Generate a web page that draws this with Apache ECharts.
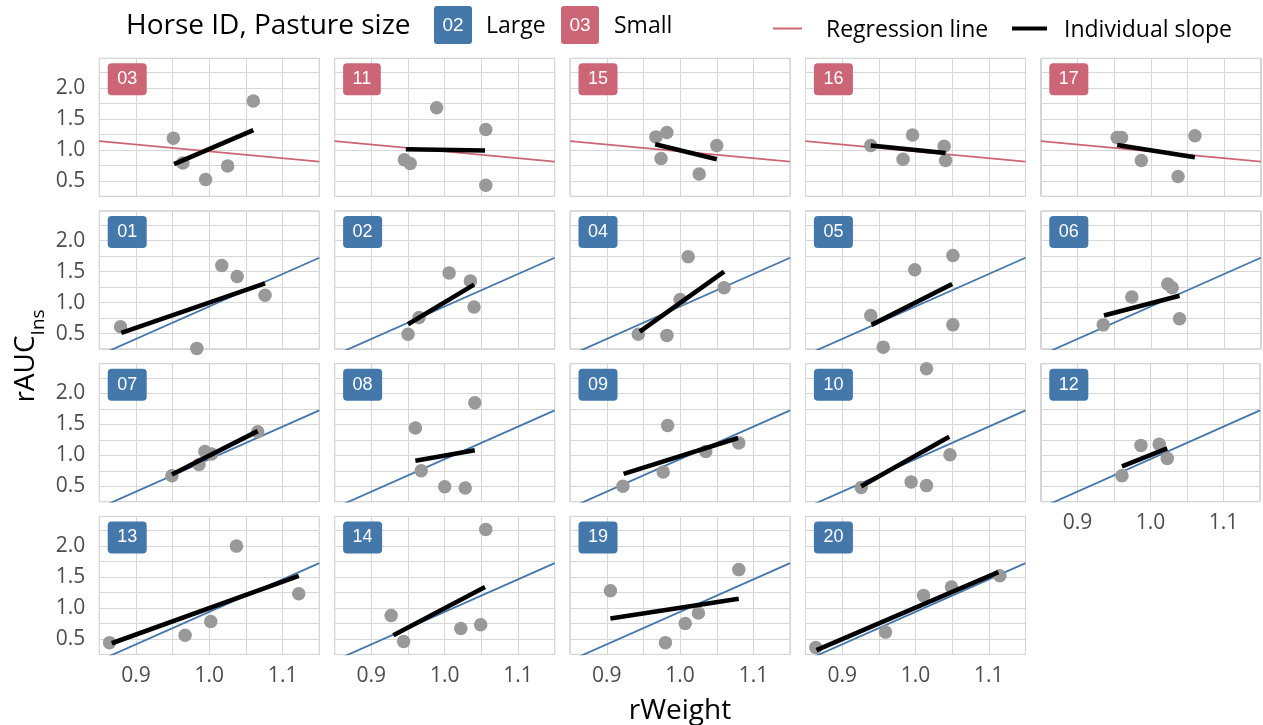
<!DOCTYPE html>
<html><head><meta charset="utf-8">
<script src="https://cdn.jsdelivr.net/npm/echarts@6/dist/echarts.min.js"></script>
<style>html,body{margin:0;padding:0;background:#fff}#c{width:1263px;height:725px}</style>
</head><body><div id="c"></div>
<script>
// ---- data ----
const horses  = ['03','11','15','16','17','01','02','04','05','06','07','08','09','10','12','13','14','19','20'];
const pasture = ['Small','Small','Small','Small','Small','Large','Large','Large','Large','Large','Large','Large','Large','Large','Large','Large','Large','Large','Large'];
const rWeight = [
  [0.951,0.964,0.995,1.025,1.060],
  [0.945,0.953,0.989,1.056,1.056],
  [0.967,0.982,0.974,1.026,1.050],
  [0.939,0.996,0.983,1.039,1.041],
  [0.954,0.960,0.987,1.037,1.060],
  [0.879,0.983,1.017,1.038,1.076],
  [0.950,0.965,1.006,1.035,1.040],
  [0.943,0.982,1.000,1.011,1.060],
  [0.939,0.956,0.999,1.051,1.051],
  [0.935,0.974,1.023,1.029,1.039],
  [0.949,0.986,0.994,1.003,1.066],
  [0.960,0.968,1.000,1.028,1.041],
  [0.922,0.977,0.983,1.035,1.080],
  [0.926,0.994,1.015,1.015,1.047],
  [0.961,0.987,1.012,1.023],
  [0.864,0.967,1.002,1.037,1.122],
  [0.927,0.944,1.022,1.049,1.056],
  [0.905,0.980,1.007,1.025,1.080],
  [0.864,0.959,1.011,1.049,1.115]
];
const rAUC = [
  [1.19,0.79,0.52,0.74,1.79],
  [0.84,0.78,1.68,1.33,0.43],
  [1.21,1.28,0.86,0.61,1.07],
  [1.07,1.24,0.85,1.06,0.83],
  [1.20,1.20,0.83,0.57,1.23],
  [0.61,0.26,1.60,1.42,1.12],
  [0.49,0.76,1.48,1.35,0.93],
  [0.49,0.47,1.05,1.74,1.24],
  [0.79,0.28,1.53,1.76,0.64],
  [0.64,1.09,1.30,1.24,0.74],
  [0.67,0.85,1.06,1.02,1.38],
  [1.44,0.75,0.49,0.47,1.85],
  [0.50,0.73,1.48,1.06,1.20],
  [0.48,0.57,0.51,2.40,1.01],
  [0.67,1.16,1.18,0.95],
  [0.44,0.56,0.78,2.00,1.23],
  [0.88,0.46,0.67,0.73,2.27],
  [1.28,0.44,0.75,0.92,1.62],
  [0.36,0.61,1.20,1.34,1.52]
];
// individual slope segments: [x1, y1, x2, y2]
const slopes = [
  [0.952,0.77,1.060,1.32],
  [0.947,1.01,1.055,0.99],
  [0.966,1.09,1.050,0.85],
  [0.939,1.07,1.041,0.95],
  [0.954,1.08,1.060,0.88],
  [0.880,0.51,1.076,1.31],
  [0.950,0.65,1.040,1.29],
  [0.945,0.53,1.060,1.50],
  [0.940,0.64,1.050,1.30],
  [0.936,0.79,1.039,1.11],
  [0.949,0.69,1.066,1.39],
  [0.960,0.91,1.041,1.08],
  [0.923,0.70,1.079,1.28],
  [0.926,0.50,1.046,1.30],
  [0.961,0.82,1.023,1.11],
  [0.867,0.43,1.122,1.52],
  [0.930,0.56,1.055,1.34],
  [0.905,0.83,1.080,1.15],
  [0.865,0.32,1.113,1.58]
];
// regression line end points per pasture size
const regSmall = [[0.85,1.14],[1.15,0.81]];
const regLarge = [[0.85,0.15],[1.15,1.725]];
const xTicks = [0.9, 1.0, 1.1];
const yTicks = [0.5, 1.0, 1.5, 2.0];
const pastureColors = {Small:'#CC6677', Large:'#4477AA'};

// ---- layout ----
const FONT = 'Open Sans';
const P_LEFT = 99.3, P_TOP = 58.3, P_W = 220, P_H = 138, DX = 235.4, DY = 152.7;
const grids = [], xAxes = [], yAxes = [], series = [], titles = [];

function fmt(ticks){ return v => ticks.some(t => Math.abs(t - v) < 1e-6) ? v.toFixed(1) : ''; }

horses.forEach((h, i) => {
  const r = Math.floor(i / 5), c = i % 5;
  const left = P_LEFT + c * DX, top = P_TOP + r * DY;
  const col = pastureColors[pasture[i]];
  const showX = (r === 3) || (r === 2 && c === 4);
  grids.push({left: left, top: top, width: P_W, height: P_H, show: true,
    backgroundColor: '#fff', borderColor: '#b8b8b8', borderWidth: 1, containLabel: false});
  xAxes.push({type: 'value', gridIndex: i, min: 0.85, max: 1.15, interval: 0.05,
    axisLine: {show: false}, axisTick: {show: false},
    splitLine: {show: true, lineStyle: {color: '#d7d7d7', width: 1}},
    axisLabel: {show: showX, formatter: fmt(xTicks), margin: 11, color: '#4d4d4d',
      fontSize: 21, fontFamily: FONT, showMinLabel: true, showMaxLabel: true}});
  yAxes.push({type: 'value', gridIndex: i, min: 0.25, max: 2.48, interval: 0.25,
    axisLine: {show: false}, axisTick: {show: false},
    splitLine: {show: true, lineStyle: {color: '#d7d7d7', width: 1}},
    axisLabel: {show: c === 0, formatter: fmt(yTicks), margin: 14, color: '#4d4d4d',
      fontSize: 21, fontFamily: FONT}});
  series.push({type: 'line', name: 'Regression line', xAxisIndex: i, yAxisIndex: i,
    data: pasture[i] === 'Small' ? regSmall : regLarge, symbol: 'none', clip: true,
    lineStyle: {color: col, width: 1.8}, silent: true, z: 2});
  series.push({type: 'scatter', xAxisIndex: i, yAxisIndex: i, clip: true,
    data: rWeight[i].map((x, k) => [x, rAUC[i][k]]), symbolSize: 13.5,
    itemStyle: {color: '#999999', opacity: 1}, silent: true, z: 3});
  const s = slopes[i];
  series.push({type: 'line', name: 'Individual slope', xAxisIndex: i, yAxisIndex: i,
    data: [[s[0], s[1]], [s[2], s[3]]], symbol: 'none', clip: true,
    lineStyle: {color: '#000', width: 4.6, cap: 'butt'}, silent: true, z: 4});
  titles.push({text: h, left: left + 8.4, top: top + 5, backgroundColor: col,
    borderRadius: 4, padding: [7, 9.5, 7, 9.5],
    textStyle: {color: '#fff', fontSize: 18, fontWeight: 'normal', fontFamily: 'Liberation Sans', lineHeight: 18}});
});

const graphic = [
  {type: 'text', x: 126, y: 26, style: {text: 'Horse ID, Pasture size', fontSize: 28, fontFamily: FONT, fill: '#000', verticalAlign: 'middle'}},
  {type: 'rect', shape: {x: 434, y: 6, width: 38, height: 38, r: 3}, style: {fill: pastureColors.Large}},
  {type: 'text', x: 453, y: 25.5, style: {text: horses[6], fontSize: 19, fontFamily: 'Liberation Sans', fill: '#fff', align: 'center', verticalAlign: 'middle'}},
  {type: 'text', x: 486, y: 26.5, style: {text: 'Large', fontSize: 23, fontFamily: FONT, fill: '#000', verticalAlign: 'middle'}},
  {type: 'rect', shape: {x: 561, y: 6, width: 38, height: 38, r: 3}, style: {fill: pastureColors.Small}},
  {type: 'text', x: 580, y: 25.5, style: {text: horses[0], fontSize: 19, fontFamily: 'Liberation Sans', fill: '#fff', align: 'center', verticalAlign: 'middle'}},
  {type: 'text', x: 614, y: 26.5, style: {text: 'Small', fontSize: 23, fontFamily: FONT, fill: '#000', verticalAlign: 'middle'}},
  {type: 'line', shape: {x1: 773, y1: 28.5, x2: 802, y2: 28.5}, style: {stroke: pastureColors.Small, lineWidth: 2}},
  {type: 'text', x: 826, y: 30, style: {text: 'Regression line', fontSize: 23, fontFamily: FONT, fill: '#000', verticalAlign: 'middle'}},
  {type: 'line', shape: {x1: 1012, y1: 28.5, x2: 1047, y2: 28.5}, style: {stroke: '#000', lineWidth: 4}},
  {type: 'text', x: 1064, y: 30, style: {text: 'Individual slope', fontSize: 23, fontFamily: FONT, fill: '#000', verticalAlign: 'middle'}},
  {type: 'text', x: 680, y: 711, style: {text: 'rWeight', fontSize: 28, fontFamily: FONT, fill: '#000', align: 'center', verticalAlign: 'middle'}},
  {type: 'text', x: 26, y: 356, rotation: Math.PI / 2,
    style: {text: '{a|rAUC}{b|Ins}', align: 'center', verticalAlign: 'middle', fill: '#000',
      rich: {a: {fontSize: 28, fontFamily: FONT, fill: '#000'}, b: {fontSize: 19, fontFamily: FONT, fill: '#000', verticalAlign: 'bottom', padding: [0, 0, -8, 0]}}}}
];

const chart = echarts.init(document.getElementById('c'), null, {renderer: 'canvas'});
chart.setOption({
  animation: false, backgroundColor: '#fff',
  title: titles, grid: grids, xAxis: xAxes, yAxis: yAxes, series: series, graphic: graphic
});
</script></body></html>
